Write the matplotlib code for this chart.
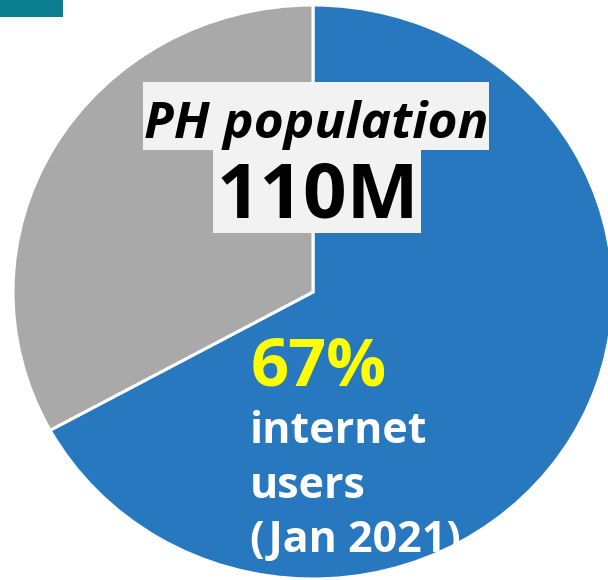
import matplotlib
matplotlib.use("Agg")
import matplotlib.pyplot as plt
from matplotlib.patches import Rectangle

# 数据
labels = ["internet users", "non-users"]
shares = [67, 33]
colors = ["#2778be", "#a9a9a9"]
title_line = "PH population"
population = "110M"
pct_label = "67%"
user_lines = ["internet", "users", "(Jan 2021)"]

W, H = 608, 580
fig = plt.figure(figsize=(W / 100, H / 100), dpi=100)


def fx(px):
    return px / W


def fy(py):
    return 1 - py / H


# 饼图：略微拉伸成椭圆，并超出右侧画布
ax = fig.add_axes([fx(13), fy(579), 600 / W, 574 / H])
ax.pie(shares, colors=colors, startangle=90, counterclock=False, radius=1,
       wedgeprops=dict(edgecolor="white", linewidth=2.2))
ax.set_xlim(-1, 1)
ax.set_ylim(-1, 1)
ax.set_aspect("auto")
ax.axis("off")

# 左上角的青色块
fig.add_artist(Rectangle((0, fy(17)), fx(63), 17 / H, transform=fig.transFigure,
                         facecolor="#0b7f8f", edgecolor="none"))

# 文本背景框
fig.add_artist(Rectangle((fx(143), fy(150)), fx(489) - fx(143), 68 / H,
                         transform=fig.transFigure, facecolor="#f2f2f2", edgecolor="none"))
fig.add_artist(Rectangle((fx(213), fy(233)), fx(421) - fx(213), 83 / H,
                         transform=fig.transFigure, facecolor="#f2f2f2", edgecolor="none"))

font = "Open Sans"
fig.text(fx(316), fy(138), title_line, ha="center", va="baseline", fontsize=37,
         fontweight="bold", fontstyle="italic", family=font, color="black")
fig.text(fx(318), fy(217), population, ha="center", va="baseline", fontsize=55,
         fontweight="bold", family=font, color="black")

fig.text(fx(251), fy(385), pct_label, ha="left", va="baseline", fontsize=48,
         fontweight="bold", family=font, color="#ffff00")
for i, line in enumerate(user_lines):
    fig.text(fx(250), fy(443 + 54.5 * i), line, ha="left", va="baseline", fontsize=31,
             fontweight="bold", family=font, color="white")

fig.savefig("out.png", dpi=100)
